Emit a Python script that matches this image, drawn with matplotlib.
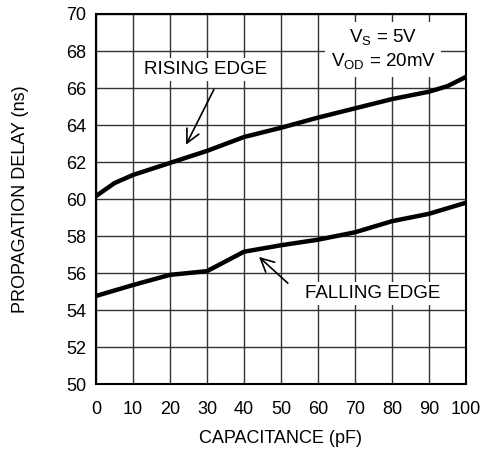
import matplotlib.pyplot as plt
import numpy as np

plt.rcParams['font.family'] = ['Liberation Sans', 'DejaVu Sans']

# capacitance (pF)
cap = [0, 5, 10, 20, 30, 40, 50, 60, 70, 80, 90, 95, 100]
# propagation delay (ns)
rising = [60.16, 60.86, 61.3, 61.95, 62.6, 63.35, 63.85, 64.4, 64.9, 65.4, 65.8, 66.1, 66.6]
cap_f = [0, 10, 20, 30, 40, 50, 60, 70, 80, 90, 100]
falling = [54.76, 55.35, 55.9, 56.1, 57.15, 57.5, 57.8, 58.2, 58.8, 59.2, 59.8]

xticks = np.arange(0, 101, 10)
yticks = np.arange(50, 71, 2)


def main():
    fig = plt.figure(figsize=(4.91, 4.62), dpi=100)
    ax = fig.add_axes([0.1955, 0.1688, 0.7535, 0.8009])

    ax.set_xlim(0, 100)
    ax.set_ylim(50, 70)
    ax.set_xticks(xticks)
    ax.set_yticks(yticks)
    ax.tick_params(length=0, labelsize=13)
    ax.tick_params(axis='x', pad=12)
    ax.tick_params(axis='y', pad=7)
    ax.grid(color='#333333', linewidth=1.0)
    for s in ax.spines.values():
        s.set_linewidth(1.5)
        s.set_color('black')

    ax.plot(cap, rising, color='black', linewidth=3.2, solid_capstyle='round', zorder=4)
    ax.plot(cap_f, falling, color='black', linewidth=3.2, solid_capstyle='round', zorder=4)

    box = dict(facecolor='white', edgecolor='none', pad=2)
    ax.text(29.5, 67.0, "RISING EDGE", ha='center', va='center', fontsize=13.5, bbox=box, zorder=3)
    ax.annotate("", xy=(24, 62.8), xytext=(32.2, 66.05),
                arrowprops=dict(arrowstyle='->', color='black', lw=1.2,
                                mutation_scale=24), zorder=5)

    ax.text(74.9, 54.9, "FALLING EDGE", ha='center', va='center', fontsize=13.5, bbox=box, zorder=3)
    ax.annotate("", xy=(43.5, 56.97), xytext=(52.4, 55.35),
                arrowprops=dict(arrowstyle='->', color='black', lw=1.2,
                                mutation_scale=24), zorder=5)

    ax.text(77.6, 68.1, "$\\mathregular{V_S}$ = 5V\n$\\mathregular{V_{OD}}$ = 20mV",
            ha='center', va='center', fontsize=13.5, linespacing=1.25,
            bbox=dict(facecolor='white', edgecolor='none', pad=4), zorder=3)

    ax.set_xlabel("CAPACITANCE (pF)", fontsize=13, va='center')
    ax.set_ylabel("PROPAGATION DELAY (ns)", fontsize=13, va='center')
    ax.xaxis.set_label_coords(0.5, -0.146)
    ax.yaxis.set_label_coords(-0.203, 0.5)

    fig.savefig("out.png", dpi=100)


if __name__ == "__main__":
    main()
